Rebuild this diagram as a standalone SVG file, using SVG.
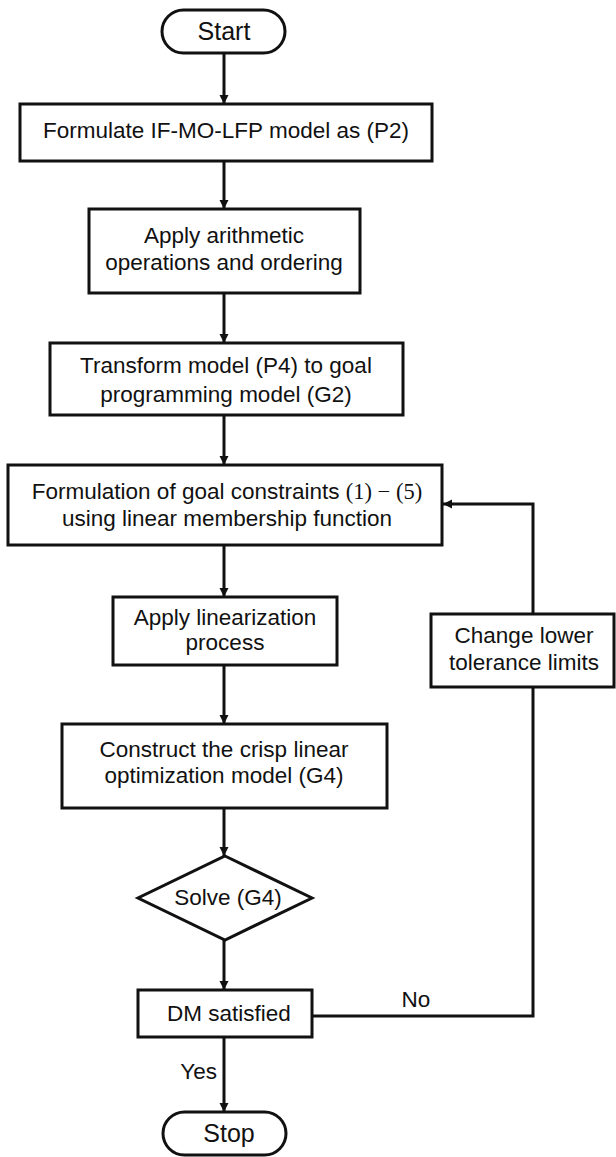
<svg xmlns="http://www.w3.org/2000/svg" width="616" height="1157" viewBox="0 0 616 1157">
<defs>
<style>
.box{fill:#fff;stroke:#111;stroke-width:3}
.t{font-family:"Liberation Sans",Arial,sans-serif;font-size:22.5px;fill:#111;text-anchor:middle}
.term{font-size:25px}
.m{font-family:"Liberation Serif","Times New Roman",serif}
.c{fill:none;stroke:#111;stroke-width:3}
</style>
<marker id="ah" viewBox="0 0 10 10" refX="10" refY="5" markerWidth="9" markerHeight="11" markerUnits="userSpaceOnUse" orient="auto">
<path d="M0,0 L10,5 L0,10 z" fill="#111"/>
</marker>
</defs>
<rect width="616" height="1157" fill="#fff"/>
<g id="connectors">
<line class="c" x1="224" y1="53" x2="224" y2="104" marker-end="url(#ah)"/>
<line class="c" x1="224" y1="161" x2="224" y2="209" marker-end="url(#ah)"/>
<line class="c" x1="224" y1="293" x2="224" y2="343" marker-end="url(#ah)"/>
<line class="c" x1="224" y1="415" x2="224" y2="465" marker-end="url(#ah)"/>
<line class="c" x1="224" y1="545" x2="224" y2="597" marker-end="url(#ah)"/>
<line class="c" x1="224" y1="665" x2="224" y2="724" marker-end="url(#ah)"/>
<line class="c" x1="224" y1="808" x2="224" y2="856" marker-end="url(#ah)"/>
<line class="c" x1="224" y1="940" x2="224" y2="990" marker-end="url(#ah)"/>
<line class="c" x1="224" y1="1037" x2="224" y2="1112" marker-end="url(#ah)"/>
<polyline class="c" points="312,1016 533,1016 533,687"/>
<polyline class="c" points="533,614 533,504 443,504" marker-end="url(#ah)"/>
<text class="t" x="416" y="1007">No</text>
<text class="t" x="217" y="1079" style="text-anchor:end">Yes</text>
</g>
<g id="start">
<rect class="box" x="162" y="10" width="123" height="43" rx="21.5"/>
<text class="t term" x="224" y="40">Start</text>
</g>
<g id="formulate">
<rect class="box" x="20" y="104" width="412" height="57"/>
<text class="t" x="226" y="138">Formulate IF-MO-LFP model as (P2)</text>
</g>
<g id="arith">
<rect class="box" x="89" y="209" width="271" height="84"/>
<text class="t" x="224" y="243">Apply arithmetic</text>
<text class="t" x="224" y="270">operations and ordering</text>
</g>
<g id="transform">
<rect class="box" x="50" y="343" width="353" height="72"/>
<text class="t" x="226" y="373">Transform model (P4) to goal</text>
<text class="t" x="226" y="402">programming model (G2)</text>
</g>
<g id="goal">
<rect class="box" x="8" y="465" width="434" height="80"/>
<text class="t" x="227" y="499">Formulation of goal constraints <tspan class="m">(1) − (5)</tspan></text>
<text class="t" x="227" y="526">using linear membership function</text>
</g>
<g id="linear">
<rect class="box" x="113" y="597" width="224" height="68"/>
<text class="t" x="225" y="625">Apply linearization</text>
<text class="t" x="225" y="650">process</text>
</g>
<g id="crisp">
<rect class="box" x="62" y="724" width="325" height="84"/>
<text class="t" x="224" y="757">Construct the crisp linear</text>
<text class="t" x="224" y="783">optimization model (G4)</text>
</g>
<g id="solve">
<polygon class="box" points="225,856 312,898 225,940 138,898"/>
<text class="t" x="228" y="905">Solve (G4)</text>
</g>
<g id="dm">
<rect class="box" x="138" y="990" width="174" height="47"/>
<text class="t" x="229" y="1021">DM satisfied</text>
</g>
<g id="change">
<rect class="box" x="431" y="614" width="183" height="73"/>
<text class="t" x="524" y="643">Change lower</text>
<text class="t" x="524" y="670">tolerance limits</text>
</g>
<g id="stop">
<rect class="box" x="163" y="1112" width="123" height="43" rx="21.5"/>
<text class="t term" x="229" y="1142">Stop</text>
</g>
</svg>
